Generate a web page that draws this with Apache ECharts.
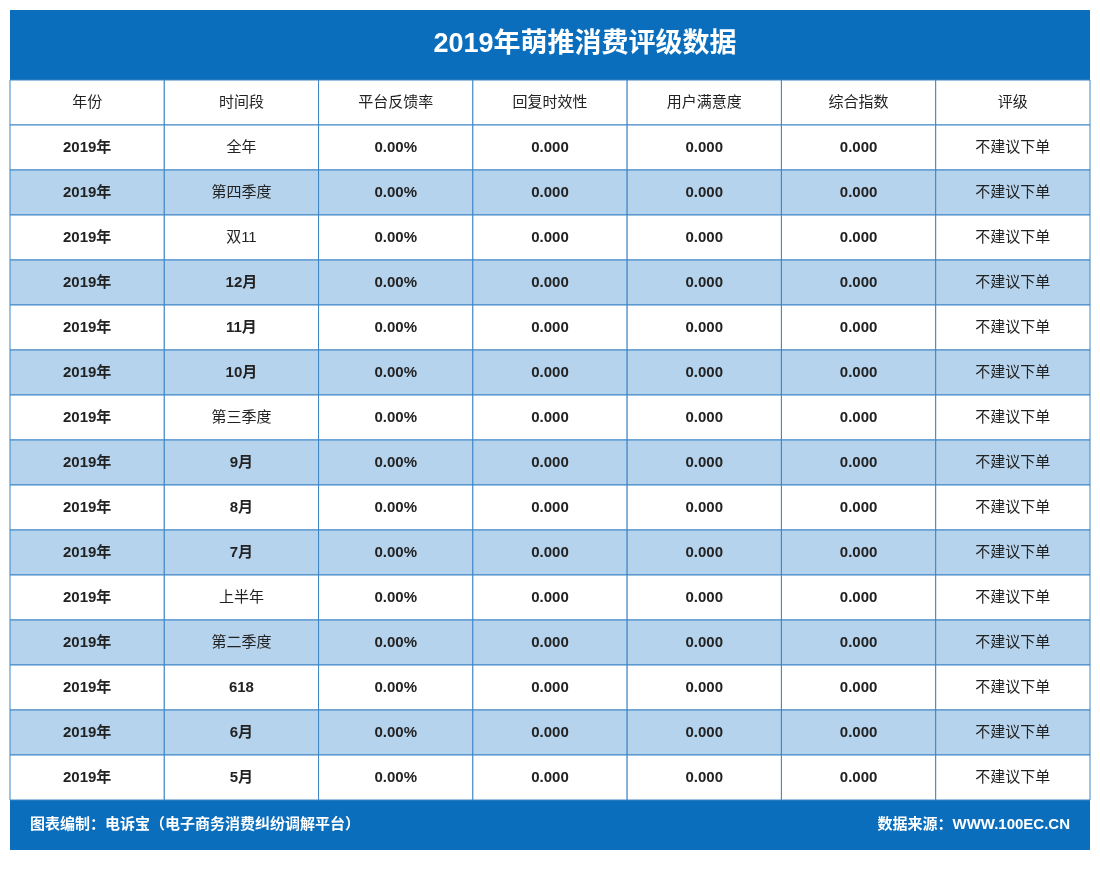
<!DOCTYPE html>
<html><head><meta charset="utf-8">
<script src="https://cdn.jsdelivr.net/npm/echarts@6/dist/echarts.min.js"></script>
<style>html,body{margin:0;background:#fff}#c{width:1100px;height:880px}</style>
</head><body><div id="c"></div>
<script>
// table data
const headers = ['年份', '时间段', '平台反馈率', '回复时效性', '用户满意度', '综合指数', '评级'];
const periods = ['全年', '第四季度', '双11', '12月', '11月', '10月', '第三季度', '9月', '8月', '7月', '上半年', '第二季度', '618', '6月', '5月'];
const years = ['2019年', '2019年', '2019年', '2019年', '2019年', '2019年', '2019年', '2019年', '2019年', '2019年', '2019年', '2019年', '2019年', '2019年', '2019年'];
const feedback = ['0.00%', '0.00%', '0.00%', '0.00%', '0.00%', '0.00%', '0.00%', '0.00%', '0.00%', '0.00%', '0.00%', '0.00%', '0.00%', '0.00%', '0.00%'];
const replyTime = [0, 0, 0, 0, 0, 0, 0, 0, 0, 0, 0, 0, 0, 0, 0];
const satisfaction = [0, 0, 0, 0, 0, 0, 0, 0, 0, 0, 0, 0, 0, 0, 0];
const overall = [0, 0, 0, 0, 0, 0, 0, 0, 0, 0, 0, 0, 0, 0, 0];
const ratings = ['不建议下单', '不建议下单', '不建议下单', '不建议下单', '不建议下单', '不建议下单', '不建议下单', '不建议下单', '不建议下单', '不建议下单', '不建议下单', '不建议下单', '不建议下单', '不建议下单', '不建议下单'];

const rowNames = ['header'].concat(periods.map((p, i) => 'r' + i));
let cells = [];
headers.forEach((h, c) => cells.push([c, 0, h]));
periods.forEach((p, i) => {
  let vals = [years[i], p, feedback[i], replyTime[i].toFixed(3), satisfaction[i].toFixed(3), overall[i].toFixed(3), ratings[i]];
  vals.forEach((v, c) => cells.push([c, i + 1, v]));
});

const chart = echarts.init(document.getElementById('c'));
chart.setOption({
  animation: false,
  grid: { left: 10, right: 10, top: 80, bottom: 80 },
  xAxis: { type: 'category', data: headers, show: false },
  yAxis: { type: 'category', data: rowNames, inverse: true, show: false },
  graphic: [
    { type: 'rect', shape: { x: 10, y: 10, width: 1080, height: 70 }, style: { fill: '#0a6ebd' } },
    { type: 'text', x: 585, y: 45, style: { text: '2019年萌推消费评级数据', fill: '#fff', font: 'bold 27px "Liberation Sans","Noto Sans CJK SC"', align: 'center', verticalAlign: 'middle' } },
    { type: 'rect', shape: { x: 10, y: 800, width: 1080, height: 50 }, style: { fill: '#0a6ebd' } },
    { type: 'text', x: 30, y: 825, style: { text: '图表编制：电诉宝（电子商务消费纠纷调解平台）', fill: '#fff', font: 'bold 15px "Liberation Sans","Noto Sans CJK SC"', verticalAlign: 'middle' } },
    { type: 'text', x: 1070, y: 825, style: { text: '数据来源：WWW.100EC.CN', fill: '#fff', font: 'bold 15px "Liberation Sans","Noto Sans CJK SC"', align: 'right', verticalAlign: 'middle' } }
  ],
  series: [{
    type: 'custom',
    data: cells,
    renderItem: function (params, api) {
      const c = api.coord([api.value(0), api.value(1)]);
      const s = api.size([1, 1]);
      const row = api.value(1);
      const col = api.value(0);
      const text = cells[params.dataIndex][2];
      const fill = row > 0 && row % 2 === 0 ? '#b5d3ec' : '#ffffff';
      const bold = row > 0 && col !== 1 && col !== 6 || (row > 0 && col === 1 && /^[0-9]/.test(text));
      return {
        type: 'group',
        children: [
          { type: 'rect', shape: { x: c[0] - s[0] / 2, y: c[1] - s[1] / 2, width: s[0], height: s[1] },
            style: { fill: fill, stroke: '#3d85c6', lineWidth: 1 } },
          { type: 'text', x: c[0], y: c[1],
            style: { text: text, align: 'center', verticalAlign: 'middle', fill: '#222',
              font: (bold ? 'bold ' : '') + '15px "Liberation Sans","Noto Sans CJK SC"' } }
        ]
      };
    }
  }]
});
</script></body></html>
